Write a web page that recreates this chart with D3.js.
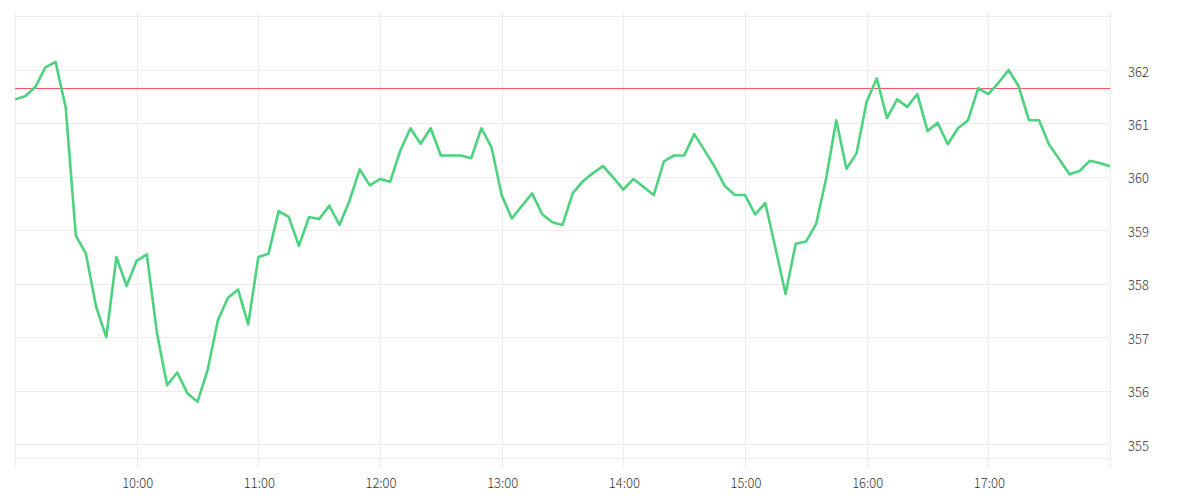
<!DOCTYPE html>
<html>
<head>
<meta charset="utf-8">
<script src="https://cdn.jsdelivr.net/npm/d3@7"></script>
<style>
  body { margin: 0; background: #fff; }
  svg text { font-family: "Noto Sans CJK SC", "Noto Sans", sans-serif; font-weight: 300; fill: #333; }
</style>
</head>
<body>
<svg id="chart"></svg>
<script>
// 5-minute prices, 09:00 - 18:00
var times = [];
for (var h = 9; h <= 18; h++) {
  for (var m = 0; m < 60; m += 5) {
    if (h === 18 && m > 0) break;
    times.push(d3.format("02")(h) + ":" + d3.format("02")(m));
  }
}

var prices = [
  361.45, 361.51, 361.68, 362.05, 362.15, 361.30, 358.90, 358.56, 357.57, 357.00, 358.50, 357.96,
  358.43, 358.55, 357.08, 356.10, 356.34, 355.95, 355.79, 356.39, 357.31, 357.74, 357.89, 357.24,
  358.50, 358.56, 359.36, 359.25, 358.71, 359.25, 359.21, 359.46, 359.10, 359.56, 360.14, 359.84,
  359.96, 359.91, 360.49, 360.91, 360.62, 360.91, 360.40, 360.40, 360.40, 360.35, 360.91, 360.55,
  359.66, 359.22, 359.46, 359.69, 359.30, 359.15, 359.10, 359.69, 359.92, 360.07, 360.20, 359.99,
  359.76, 359.96, 359.81, 359.66, 360.29, 360.40, 360.40, 360.80, 360.50, 360.19, 359.83, 359.66,
  359.66, 359.30, 359.51, 358.67, 357.81, 358.75, 358.79, 359.11, 359.97, 361.06, 360.15, 360.44,
  361.41, 361.84, 361.10, 361.45, 361.31, 361.55, 360.86, 361.01, 360.61, 360.91, 361.06, 361.66,
  361.55, 361.76, 362.00, 361.69, 361.06, 361.06, 360.60, 360.33, 360.05, 360.11, 360.30, 360.26,
  360.20
];

var refPrice = 361.66;
var yTicks = [355, 356, 357, 358, 359, 360, 361, 362];
var xTickLabels = ["10:00", "11:00", "12:00", "13:00", "14:00", "15:00", "16:00", "17:00"];
var yDomain = [354.74, 363.01];

var width = 1200, height = 500;
var plotLeft = 15, plotRight = 1110, plotTop = 16, plotBottom = 458;

var parse = d3.timeParse("%H:%M");
var data = times.map((t, i) => ({ t: parse(t), v: prices[i] }));

var svg = d3.select("#chart")
    .attr("width", width)
    .attr("height", height);

var x = d3.scaleTime()
          .domain([parse("09:00"), parse("18:00")])
          .range([plotLeft, plotRight]);

var y = d3.scaleLinear()
          .domain(yDomain)
          .range([plotBottom, plotTop]);

var grid = "#ededed";

// horizontal grid
svg.append("g")
  .selectAll("line")
  .data(yTicks.concat(yDomain))
  .enter()
  .append("line")
    .attr("x1", plotLeft)
    .attr("x2", plotRight)
    .attr("y1", d => Math.round(y(d)) + 0.5)
    .attr("y2", d => Math.round(y(d)) + 0.5)
    .attr("stroke", grid);

// vertical grid (hours, including edges)
var hourLines = ["09:00"].concat(xTickLabels, ["18:00"]).map(parse);
svg.append("g")
  .selectAll("line")
  .data(hourLines)
  .enter()
  .append("line")
    .attr("x1", d => Math.round(x(d)) + 0.5)
    .attr("x2", d => Math.round(x(d)) + 0.5)
    .attr("y1", plotTop - 4)
    .attr("y2", plotBottom + 10)
    .attr("stroke", grid);

// y labels on the right
svg.append("g")
  .selectAll("text")
  .data(yTicks)
  .enter()
  .append("text")
    .attr("x", plotRight + 18)
    .attr("y", d => y(d) + 2)
    .attr("dy", "0.35em")
    .attr("font-size", 13)
    .text(d => d);

// x labels
svg.append("g")
  .selectAll("text")
  .data(xTickLabels)
  .enter()
  .append("text")
    .attr("x", d => x(parse(d)) + 1)
    .attr("y", 483)
    .attr("dy", "0.35em")
    .attr("font-size", 13)
    .style("text-anchor", "middle")
    .text(d => d);

// reference line
svg.append("line")
    .attr("x1", plotLeft)
    .attr("x2", plotRight)
    .attr("y1", Math.round(y(refPrice)) + 0.5)
    .attr("y2", Math.round(y(refPrice)) + 0.5)
    .attr("stroke", "#ff5466")
    .attr("stroke-width", 1);

var line = d3.line()
             .x(d => x(d.t))
             .y(d => y(d.v));

svg.append("path")
    .datum(data)
    .attr("d", line)
    .attr("fill", "none")
    .attr("stroke", "#4cd37d")
    .attr("stroke-width", 2.6)
    .attr("stroke-linejoin", "round");
</script>
</body>
</html>
